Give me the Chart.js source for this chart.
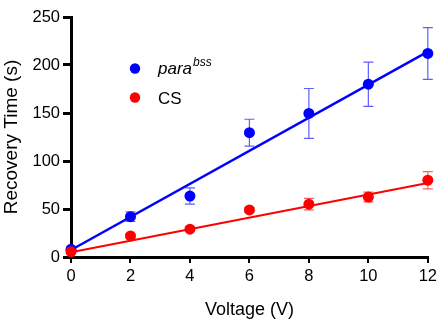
<!DOCTYPE html>
<html>
<head>
<meta charset="utf-8">
<script src="https://cdn.jsdelivr.net/npm/chart.js@4.4.1/dist/chart.umd.min.js"></script>
<style>
  html, body { margin: 0; padding: 0; background: #fff; }
  #wrap { width: 441px; height: 329px; }
</style>
</head>
<body>
<div id="wrap"><canvas id="c" width="441" height="329"></canvas></div>
<script>
// Stimulus voltages (V)
const voltages = [0, 2, 4, 6, 8, 10, 12];

// Mean recovery time (s) and error for each genotype
const paraMean = [8, 42, 63.5, 129.5, 149.5, 180, 212];
const paraErr  = [2, 5, 8.5, 14, 26, 23, 27];
const csMean   = [5.5, 22, 29, 49, 55, 62.5, 80];
const csErr    = [1, 2, 2, 2.5, 6, 5, 9];

// Linear fit end points (value at 0 V and at 12 V)
const fitX    = [0, 12];
const paraFit = [7.3, 214];
const csFit   = [5, 77];

// Axis ticks
const xTicks = [0, 2, 4, 6, 8, 10, 12];
const yTicks = [0, 50, 100, 150, 200, 250];

const BLUE = '#0000ff';
const RED = '#ff0000';
const FONT = "'Liberation Sans', Arial, sans-serif";

const pts = (xs, ys) => xs.map((x, i) => ({ x: x, y: ys[i] }));

// Vertical error bars with caps, drawn beneath the markers
const errorBars = {
  id: 'errorBars',
  beforeDatasetsDraw(chart) {
    const { ctx, scales: { x, y } } = chart;
    const sets = [
      { mean: paraMean, err: paraErr, color: 'rgba(40,40,255,0.75)' },
      { mean: csMean, err: csErr, color: 'rgba(255,40,40,0.75)' }
    ];
    ctx.save();
    ctx.lineWidth = 1.2;
    sets.forEach(s => {
      ctx.strokeStyle = s.color;
      voltages.forEach((v, i) => {
        const px = x.getPixelForValue(v);
        const top = y.getPixelForValue(s.mean[i] + s.err[i]);
        const bot = y.getPixelForValue(s.mean[i] - s.err[i]);
        ctx.beginPath();
        ctx.moveTo(px, top); ctx.lineTo(px, bot);
        ctx.moveTo(px - 5, top); ctx.lineTo(px + 5, top);
        ctx.moveTo(px - 5, bot); ctx.lineTo(px + 5, bot);
        ctx.stroke();
      });
    });
    ctx.restore();
  }
};

// Legend with an italic genotype name and superscript allele
const legendBox = {
  id: 'legendBox',
  afterDraw(chart) {
    const { ctx, chartArea } = chart;
    const dotX = chartArea.left + 64;
    const textX = chartArea.left + 87;
    const rows = [
      { y: chartArea.top + 51.5, color: BLUE },
      { y: chartArea.top + 80.5, color: RED }
    ];
    ctx.save();
    rows.forEach(r => {
      ctx.fillStyle = r.color;
      ctx.beginPath();
      ctx.arc(dotX, r.y, 5.2, 0, Math.PI * 2);
      ctx.fill();
    });
    ctx.fillStyle = '#000';
    ctx.textBaseline = 'alphabetic';
    ctx.textAlign = 'left';
    ctx.font = 'italic 17px ' + FONT;
    const base1 = rows[0].y + 5.5;
    ctx.fillText('para', textX, base1);
    const w = ctx.measureText('para').width;
    ctx.font = 'italic 12px ' + FONT;
    ctx.fillText('bss', textX + w + 1, base1 - 8);
    ctx.font = '17px ' + FONT;
    ctx.fillText('CS', textX, rows[1].y + 6);
    ctx.restore();
  }
};

new Chart(document.getElementById('c'), {
  type: 'scatter',
  data: {
    datasets: [
      {
        label: 'CS',
        data: pts(voltages, csMean),
        backgroundColor: RED,
        pointRadius: 5.5,
        pointBorderWidth: 0,
        borderWidth: 0,
        order: 0,
        clip: false
      },
      {
        label: 'para bss',
        data: pts(voltages, paraMean),
        backgroundColor: BLUE,
        pointRadius: 5.5,
        pointBorderWidth: 0,
        borderWidth: 0,
        order: 1,
        clip: false
      },
      {
        type: 'line',
        label: 'CS fit',
        data: pts(fitX, csFit),
        borderColor: RED,
        borderWidth: 2,
        pointRadius: 0,
        order: 2,
        clip: false
      },
      {
        type: 'line',
        label: 'para fit',
        data: pts(fitX, paraFit),
        borderColor: BLUE,
        borderWidth: 2.5,
        pointRadius: 0,
        order: 3,
        clip: false
      }
    ]
  },
  options: {
    responsive: false,
    animation: false,
    devicePixelRatio: 1,
    layout: { padding: { top: 17, right: 10, left: 0, bottom: 0 } },
    plugins: { legend: { display: false }, tooltip: { enabled: false } },
    scales: {
      x: {
        type: 'linear',
        min: 0, max: 12,
        afterBuildTicks(scale) { scale.ticks = xTicks.map(v => ({ value: v })); },
        afterFit(scale) { scale.height = 72; },
        grid: { display: true, drawOnChartArea: false, drawTicks: true, tickLength: 6, lineWidth: 2, color: '#000' },
        border: { display: true, width: 3, color: '#000' },
        ticks: { color: '#000', padding: 4, font: { family: FONT, size: 16.5 }, maxRotation: 0 },
        title: { display: true, text: 'Voltage (V)', color: '#000', font: { family: FONT, size: 18 }, padding: { top: 0, bottom: 8 } }
      },
      y: {
        type: 'linear',
        min: 0, max: 250,
        afterBuildTicks(scale) { scale.ticks = yTicks.map(v => ({ value: v })); },
        afterFit(scale) { scale.width = 71; },
        grid: { display: true, drawOnChartArea: false, drawTicks: true, tickLength: 8, lineWidth: 3, color: '#000' },
        border: { display: true, width: 3, color: '#000' },
        ticks: { color: '#000', padding: 3, font: { family: FONT, size: 16.5 } },
        title: { display: true, text: 'Recovery Time (s)', color: '#000', font: { family: FONT, size: 19 }, padding: { top: 0, bottom: 0 } }
      }
    }
  },
  plugins: [errorBars, legendBox]
});
</script>
</body>
</html>
